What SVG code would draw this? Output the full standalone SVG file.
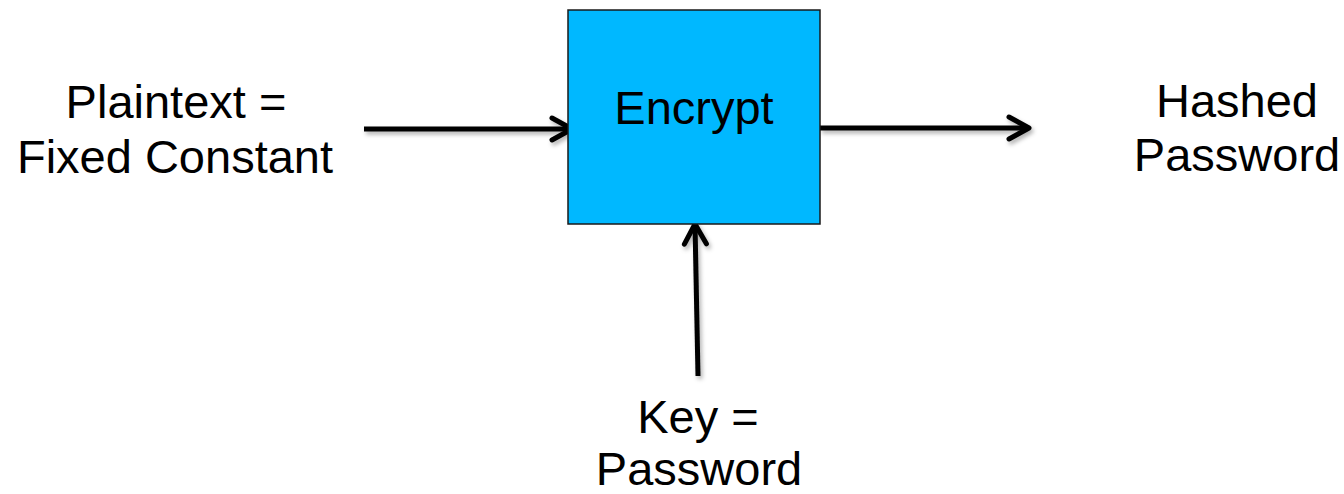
<svg xmlns="http://www.w3.org/2000/svg" width="1344" height="494" viewBox="0 0 1344 494">
  <style>
    .lbl { font-family: "Liberation Sans", Arial, sans-serif; font-size: 47px; fill: #000; text-anchor: middle; }
    .conn { stroke: #000; stroke-width: 5; fill: none; marker-end: url(#arr); }
    .box { fill: #00B8FF; stroke: #1a1a1a; stroke-width: 1.5; }
  </style>
  <defs>
    <filter id="sh" filterUnits="userSpaceOnUse" x="0" y="0" width="1344" height="494">
      <feDropShadow dx="2" dy="3" stdDeviation="2" flood-color="#000" flood-opacity="0.3"/>
    </filter>
    <marker id="arr" markerUnits="userSpaceOnUse" viewBox="-26 -15 30 30" refX="0" refY="0" markerWidth="30" markerHeight="30" orient="auto">
      <path d="M-20,-11 L0,0 L-20,11" fill="none" stroke="#000" stroke-width="5" stroke-linecap="round" stroke-linejoin="round"/>
    </marker>
  </defs>
  <rect width="1344" height="494" fill="#fff"/>
  <g id="connectors" filter="url(#sh)">
    <path class="conn" d="M364,129 L572,129"/>
    <path class="conn" d="M820,128 L1029,128"/>
    <path class="conn" d="M698,376 L695,224"/>
  </g>
  <g id="encrypt">
    <rect class="box" x="568" y="10" width="252" height="214"/>
    <text class="lbl" x="694" y="124">Encrypt</text>
  </g>
  <g id="plaintext">
    <text class="lbl" x="176" y="118">Plaintext =</text>
    <text class="lbl" x="175" y="173">Fixed Constant</text>
  </g>
  <g id="hashed">
    <text class="lbl" x="1237" y="117">Hashed</text>
    <text class="lbl" x="1237" y="171">Password</text>
  </g>
  <g id="key">
    <text class="lbl" x="698" y="433">Key =</text>
    <text class="lbl" x="699" y="485">Password</text>
  </g>
</svg>
